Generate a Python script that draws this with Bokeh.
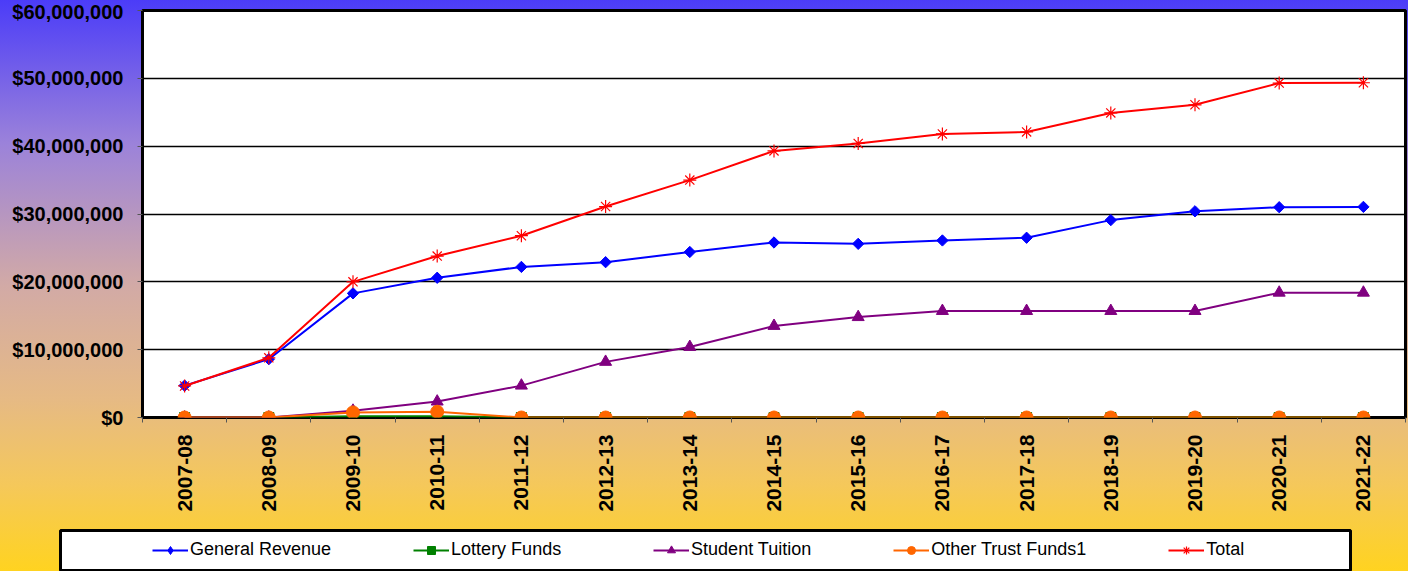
import numpy as np
from bokeh.plotting import figure
from bokeh.layouts import column, row
from bokeh.models import (FixedTicker, NumeralTickFormatter, Legend, LegendItem,
                          InlineStyleSheet, Range1d, BoxAnnotation)
from bokeh.embed import file_html
from bokeh.resources import INLINE

years = ["2007-08", "2008-09", "2009-10", "2010-11", "2011-12", "2012-13", "2013-14",
         "2014-15", "2015-16", "2016-17", "2017-18", "2018-19", "2019-20", "2020-21", "2021-22"]
general_revenue = [4.7e6, 8.6e6, 18.3e6, 20.6e6, 22.2e6, 22.9e6, 24.4e6, 25.8e6,
                   25.6e6, 26.1e6, 26.5e6, 29.1e6, 30.4e6, 31.0e6, 31.05e6]
lottery_funds = [0, 0, 0.2e6, 0.2e6, 0, 0, 0, 0, 0, 0, 0, 0, 0, 0, 0]
student_tuition = [0, 0, 1.0e6, 2.35e6, 4.7e6, 8.2e6, 10.4e6, 13.5e6, 14.8e6, 15.7e6,
                   15.7e6, 15.7e6, 15.7e6, 18.4e6, 18.4e6]
other_trust_funds = [0, 0, 0.75e6, 0.85e6, 0, 0, 0, 0, 0, 0, 0, 0, 0, 0, 0]
total = [4.65e6, 8.8e6, 20.0e6, 23.8e6, 26.8e6, 31.1e6, 35.0e6, 39.3e6, 40.4e6, 41.8e6,
         42.1e6, 44.9e6, 46.1e6, 49.3e6, 49.35e6]
y_ticks = [0, 10_000_000, 20_000_000, 30_000_000, 40_000_000, 50_000_000, 60_000_000]

series_names = ["General Revenue", "Lottery Funds", "Student Tuition", "Other Trust Funds1", "Total"]
series_colors = ["#0000FF", "#008000", "#800080", "#FF6600", "#FF0000"]
series_values = [general_revenue, lottery_funds, student_tuition, other_trust_funds, total]

FONT = "Liberation Sans"
W = 1408
BL, BR = 142, 3
x = list(range(len(years)))

fig = figure(width=W, height=521,
             x_range=Range1d(-0.5, len(years) - 0.5), y_range=Range1d(0, 60_000_000),
             output_backend="svg", toolbar_location=None,
             min_border_left=BL, min_border_right=BR, min_border_top=10, min_border_bottom=104,
             background_fill_color="white", border_fill_color=None,
             outline_line_color="black", outline_line_width=3)

fig.xgrid.grid_line_color = None
fig.ygrid.grid_line_color = "black"
fig.ygrid.grid_line_width = 1.5
fig.ygrid.ticker = FixedTicker(ticks=y_ticks)

fig.yaxis.ticker = FixedTicker(ticks=y_ticks)
fig.yaxis.formatter = NumeralTickFormatter(format="$0,0")
fig.yaxis.major_label_text_font = FONT
fig.yaxis.major_label_text_font_style = "bold"
fig.yaxis.major_label_text_font_size = "20px"
fig.yaxis.major_label_text_color = "black"
fig.yaxis.major_tick_out = 5
fig.yaxis.major_tick_in = 0
fig.yaxis.major_tick_line_color = "#555555"
fig.yaxis.minor_tick_line_color = None
fig.yaxis.axis_line_color = None
fig.yaxis.major_label_standoff = 14

fig.xaxis.ticker = FixedTicker(ticks=x, minor_ticks=[i - 0.5 for i in range(len(years) + 1)])
fig.xaxis.major_label_overrides = {i: lab for i, lab in enumerate(years)}
fig.xaxis.major_label_orientation = np.pi / 2
fig.xaxis.major_label_text_font = FONT
fig.xaxis.major_label_text_font_style = "bold"
fig.xaxis.major_label_text_font_size = "21px"
fig.xaxis.major_label_text_color = "black"
fig.xaxis.major_tick_out = 0
fig.xaxis.major_tick_in = 0
fig.xaxis.minor_tick_out = 5
fig.xaxis.minor_tick_in = 0
fig.xaxis.minor_tick_line_color = "#555555"
fig.xaxis.axis_line_color = None
fig.xaxis.major_label_standoff = 12

marker_kw = [
    dict(marker="square", angle=np.pi / 4, size=8),
    dict(marker="square", size=10),
    dict(marker="triangle", size=12),
    dict(marker="circle", size=13),
    dict(marker="asterisk", size=13, line_width=1.2),
]
legend_marker_kw = [
    dict(marker="diamond", size=13),
    dict(marker="square", size=10),
    dict(marker="triangle", size=12),
    dict(marker="circle", size=12),
    dict(marker="asterisk", size=12, line_width=1.2),
]

for vals, col, mk in zip(series_values, series_colors, marker_kw):
    fig.line(x, vals, line_color=col, line_width=2)
    fill = None if mk["marker"] == "asterisk" else col
    fig.scatter(x, vals, fill_color=fill, line_color=col, **mk)

# ---- legend strip: a second figure whose frame spans its whole width ----
LH = 50
lf = figure(width=W, height=LH, x_range=Range1d(0, W), y_range=Range1d(0, LH),
            output_backend="svg", toolbar_location=None,
            x_axis_type=None, y_axis_type=None,
            min_border_left=0, min_border_right=0, min_border_top=0, min_border_bottom=0,
            background_fill_color=None, border_fill_color=None, outline_line_color=None)

box = BoxAnnotation(left=60, right=1350, bottom=1, top=41,
                    fill_color="white", fill_alpha=1.0,
                    line_color="black", line_width=3, line_alpha=1.0)
lf.add_layout(box)

items = []
for name, vals, col, mk in zip(series_names, series_values, series_colors, legend_marker_kw):
    # same series, far outside this strip's ranges: only their legend glyphs show
    lr = lf.line([v - 1000 for v in x], vals, line_color=col, line_width=2)
    fill = None if mk["marker"] == "asterisk" else col
    sr = lf.scatter([v - 1000 for v in x], vals, fill_color=fill, line_color=col, **mk)
    items.append(LegendItem(label=name, renderers=[lr, sr]))

legend = Legend(items=items, orientation="horizontal", location=(152, 11),
                glyph_width=36, glyph_height=20, label_standoff=2, spacing=82,
                label_width=120, padding=0, margin=0,
                border_line_color=None, background_fill_alpha=0,
                label_text_font=FONT, label_text_font_size="18px", label_text_color="black",
                label_height=20)
lf.add_layout(legend, "center")

p = column(fig, row(lf, spacing=0), spacing=0)
p.stylesheets = [InlineStyleSheet(css=":host { background: linear-gradient(to bottom, #4B3CF8 0%, #9B82DA 25%, #D2AAA6 50%, #E6BA84 70%, #F5C85A 85%, #FFD320 100%); }")]

open("out.html", "w").write(file_html(p, INLINE))
